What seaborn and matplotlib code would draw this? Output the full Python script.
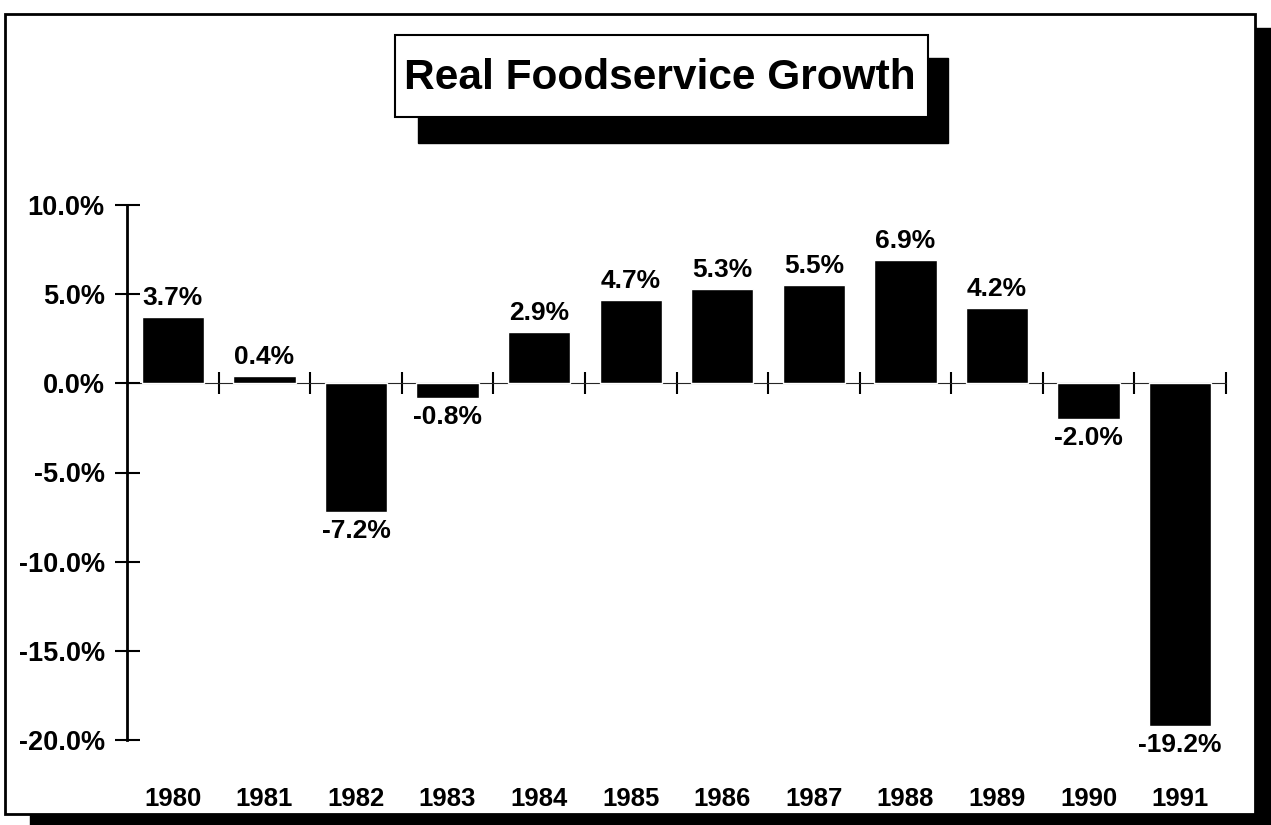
import seaborn as sns
import matplotlib.pyplot as plt
import pandas as pd
from matplotlib.patches import Rectangle

# data
years = ["1980", "1981", "1982", "1983", "1984", "1985",
         "1986", "1987", "1988", "1989", "1990", "1991"]
growth = [3.7, 0.4, -7.2, -0.8, 2.9, 4.7, 5.3, 5.5, 6.9, 4.2, -2.0, -19.2]
yticks = [-20, -15, -10, -5, 0, 5, 10]

df = pd.DataFrame({"year": years, "growth": growth})

sns.set_style("white")
plt.rcParams['font.family'] = ['Liberation Sans', 'DejaVu Sans']
plt.rcParams['text.color'] = 'black'
plt.rcParams['xtick.color'] = 'black'
plt.rcParams['ytick.color'] = 'black'

W, H = 1271, 825
fig = plt.figure(figsize=(W / 100, H / 100), dpi=100)

# outer frame with drop shadow
fig.patches.append(Rectangle((30 / W, 1 - 828 / H), 1241 / W, 800 / H,
                             transform=fig.transFigure, color="black", zorder=0))
fig.patches.append(Rectangle((5 / W, 1 - 814 / H), 1250 / W, 800 / H,
                             transform=fig.transFigure, facecolor="white",
                             edgecolor="black", lw=2, zorder=0))

# title box with drop shadow
fig.patches.append(Rectangle((418 / W, 1 - 143 / H), 530 / W, 85 / H,
                             transform=fig.transFigure, color="black", zorder=1))
fig.patches.append(Rectangle((395 / W, 1 - 117 / H), 533 / W, 82 / H,
                             transform=fig.transFigure, facecolor="white",
                             edgecolor="black", lw=1.5, zorder=2))
fig.text(660 / W, 1 - 78 / H, "Real Foodservice Growth", ha="center", va="center",
         fontsize=30.5, fontweight="bold", zorder=3)

ax = fig.add_axes([127 / W, 1 - 740 / H, (1226 - 127) / W, (740 - 205) / H])
ax.set_zorder(5)
ax.patch.set_alpha(0)

sns.barplot(data=df, x="year", y="growth", order=years, color="black",
            width=0.68, saturation=1, ax=ax)

ax.set_ylim(-20, 10)
ax.set_xlim(-0.5, len(years) - 0.5)
ax.set_xlabel("")
ax.set_ylabel("")

labels = [f"{v:.1f}%" for v in growth]
ax.bar_label(ax.containers[0], labels=labels, padding=5, fontsize=19,
             fontweight="bold")

# y axis
ax.set_yticks(yticks)
ax.set_yticklabels([f"{v:.1f}%" for v in yticks], fontweight="bold")
ax.tick_params(axis="y", direction="inout", length=18, width=1.5,
               labelsize=19.5, pad=7, left=True)
for s in ["top", "right", "bottom"]:
    ax.spines[s].set_visible(False)
ax.spines["left"].set_linewidth(2)
ax.spines["left"].set_color("black")

# year labels along the bottom
for t in ax.get_xticklabels():
    t.set_fontweight("bold")
ax.tick_params(axis="x", length=0, labelsize=18.5, pad=34)

# zero line with crossing ticks between categories
zero = ax.secondary_xaxis(20 / 30)
zero.set_xticks([i + 0.5 for i in range(len(years))])
zero.set_xticklabels([])
zero.tick_params(direction="inout", length=16, width=1.5)
zero.spines["bottom"].set_linewidth(2)
zero.spines["bottom"].set_color("black")

fig.savefig("out.png", dpi=100)
